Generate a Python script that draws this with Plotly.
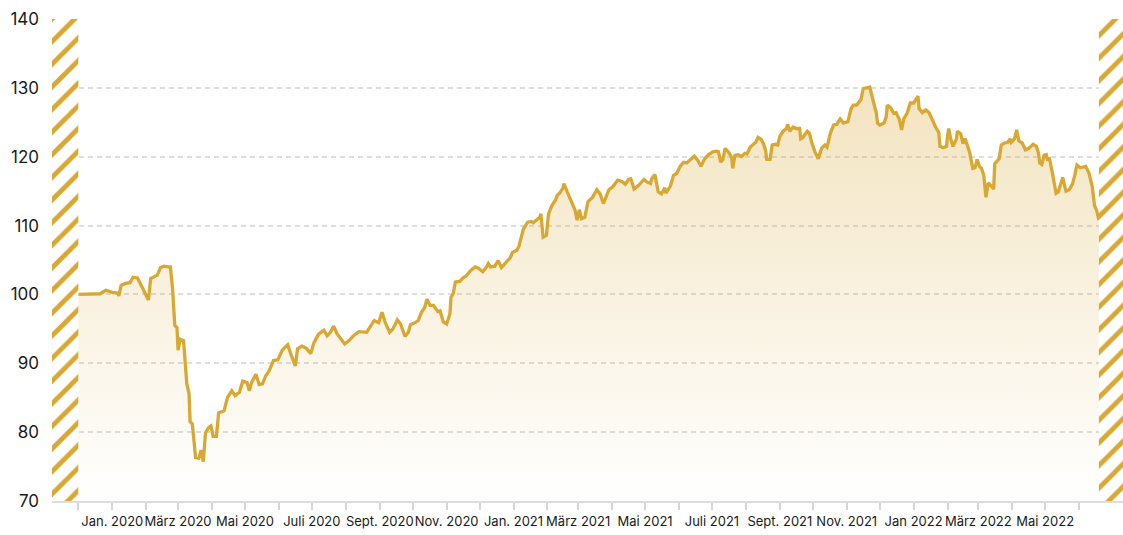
import plotly.graph_objects as go

dates = [
"2019-12-01","2019-12-17","2019-12-21","2019-12-26","2020-01-01","2020-01-06","2020-01-07","2020-01-09",
"2020-01-13","2020-01-17","2020-01-20","2020-01-24","2020-01-27","2020-01-28","2020-01-31","2020-02-03",
"2020-02-05","2020-02-08","2020-02-11","2020-02-14","2020-02-17","2020-02-21","2020-02-23","2020-02-25",
"2020-02-27","2020-02-29","2020-03-01","2020-03-03","2020-03-06","2020-03-09","2020-03-11","2020-03-12",
"2020-03-14","2020-03-17","2020-03-20","2020-03-22","2020-03-24","2020-03-26","2020-03-29","2020-03-31",
"2020-04-02","2020-04-05","2020-04-07","2020-04-12","2020-04-15","2020-04-19","2020-04-22","2020-04-26",
"2020-04-29","2020-05-03","2020-05-05","2020-05-07","2020-05-11","2020-05-14","2020-05-17","2020-05-20",
"2020-05-23","2020-05-27","2020-05-31","2020-06-04","2020-06-09","2020-06-12","2020-06-16","2020-06-18",
"2020-06-22","2020-06-26","2020-06-30","2020-07-03","2020-07-07","2020-07-12","2020-07-15","2020-07-18",
"2020-07-21","2020-07-24","2020-07-28","2020-07-31","2020-08-04","2020-08-08","2020-08-13","2020-08-17",
"2020-08-20","2020-08-24","2020-08-27","2020-08-31","2020-09-03","2020-09-06","2020-09-10","2020-09-13",
"2020-09-17","2020-09-20","2020-09-22","2020-09-24","2020-09-27","2020-09-29","2020-10-03","2020-10-06",
"2020-10-09","2020-10-12","2020-10-14","2020-10-17","2020-10-20","2020-10-24","2020-10-26","2020-10-29",
"2020-11-01","2020-11-04","2020-11-05","2020-11-07","2020-11-09","2020-11-13","2020-11-16","2020-11-19",
"2020-11-23","2020-11-27","2020-11-30","2020-12-04","2020-12-07","2020-12-09","2020-12-11","2020-12-15",
"2020-12-18","2020-12-21","2020-12-26","2020-12-29","2020-12-31","2021-01-04","2021-01-06","2021-01-08",
"2021-01-10","2021-01-14","2021-01-17","2021-01-19","2021-01-22","2021-01-25","2021-01-26","2021-01-28",
"2021-01-31","2021-02-02","2021-02-05","2021-02-08","2021-02-10","2021-02-12","2021-02-15","2021-02-16",
"2021-02-19","2021-02-22","2021-02-25","2021-02-26","2021-02-28","2021-03-02","2021-03-04","2021-03-07",
"2021-03-10","2021-03-14","2021-03-18","2021-03-21","2021-03-24","2021-03-27","2021-03-29","2021-04-02",
"2021-04-06","2021-04-10","2021-04-13","2021-04-16","2021-04-18","2021-04-21","2021-04-25","2021-04-30",
"2021-05-03","2021-05-06","2021-05-07","2021-05-10","2021-05-11","2021-05-13","2021-05-16","2021-05-19",
"2021-05-20","2021-05-24","2021-05-27","2021-05-30","2021-06-02","2021-06-05","2021-06-08","2021-06-11",
"2021-06-15","2021-06-18","2021-06-21","2021-06-24","2021-06-28","2021-07-02","2021-07-05","2021-07-07",
"2021-07-09","2021-07-11","2021-07-13","2021-07-16","2021-07-19","2021-07-20","2021-07-22","2021-07-25",
"2021-07-28","2021-07-31","2021-08-02","2021-08-05","2021-08-08","2021-08-10","2021-08-12","2021-08-15",
"2021-08-17","2021-08-19","2021-08-20","2021-08-23","2021-08-25","2021-08-28","2021-08-30","2021-09-01",
"2021-09-04","2021-09-07","2021-09-08","2021-09-10","2021-09-13","2021-09-16","2021-09-19","2021-09-20",
"2021-09-22","2021-09-26","2021-09-28","2021-09-30","2021-10-03","2021-10-06","2021-10-09","2021-10-12",
"2021-10-14","2021-10-17","2021-10-20","2021-10-23","2021-10-26","2021-10-29","2021-11-02","2021-11-05",
"2021-11-07","2021-11-10","2021-11-14","2021-11-16","2021-11-19","2021-11-22","2021-11-25","2021-11-28",
"2021-11-29","2021-12-01","2021-12-05","2021-12-07","2021-12-08","2021-12-11","2021-12-14","2021-12-16",
"2021-12-19","2021-12-21","2021-12-23","2021-12-26","2021-12-29","2022-01-01","2022-01-03","2022-01-05",
"2022-01-06","2022-01-09","2022-01-12","2022-01-15","2022-01-18","2022-01-21","2022-01-24","2022-01-25",
"2022-01-28","2022-01-31","2022-02-01","2022-02-02","2022-02-04","2022-02-06","2022-02-09","2022-02-10",
"2022-02-13","2022-02-15","2022-02-17","2022-02-19","2022-02-21","2022-02-24","2022-02-26","2022-02-28",
"2022-03-02","2022-03-04","2022-03-06","2022-03-08","2022-03-10","2022-03-13","2022-03-15","2022-03-16",
"2022-03-18","2022-03-20","2022-03-22","2022-03-25","2022-03-28","2022-03-30","2022-03-31","2022-04-03",
"2022-04-05","2022-04-07","2022-04-10","2022-04-13","2022-04-16","2022-04-20","2022-04-23","2022-04-25",
"2022-04-26","2022-04-28","2022-04-30","2022-05-02","2022-05-03","2022-05-05","2022-05-07","2022-05-09",
"2022-05-11","2022-05-13","2022-05-15","2022-05-17","2022-05-18","2022-05-20","2022-05-23","2022-05-26",
"2022-05-28","2022-05-30","2022-06-02","2022-06-04","2022-06-07","2022-06-10","2022-06-13","2022-06-15",
"2022-06-17","2022-06-19",
]

values = [
100.0,100.0,100.1,100.6,100.3,100.2,99.8,101.3,
101.6,101.7,102.5,102.4,101.5,101.1,100.3,99.2,
102.3,102.5,102.8,103.9,104.1,104.0,104.0,100.8,
95.5,95.2,91.9,93.5,93.3,87.0,85.6,81.5,
81.2,76.3,76.2,77.4,75.7,79.9,80.7,80.9,
79.4,79.4,82.8,83.1,85.0,86.0,85.3,85.8,
87.4,87.2,86.0,87.2,88.4,86.9,87.0,88.2,
88.9,90.4,90.5,91.9,92.7,91.3,89.6,92.1,
92.5,92.2,91.4,93.0,94.2,94.8,94.0,94.5,
95.4,94.3,93.5,92.8,93.3,94.0,94.6,94.5,
94.5,95.5,96.2,95.9,97.4,95.9,94.5,95.0,
96.3,95.7,94.7,93.9,94.5,95.6,95.9,96.2,
97.4,98.1,99.3,98.4,98.4,97.5,97.6,96.0,
95.7,97.2,99.6,100.1,101.8,101.9,102.4,102.7,
103.5,104.0,103.8,103.3,103.9,104.5,104.0,104.1,
104.9,103.9,104.8,105.3,106.1,106.4,107.0,108.3,
109.5,110.5,110.6,110.4,110.8,111.2,111.7,108.3,
108.6,111.7,112.9,113.6,114.4,114.7,115.4,116.1,
114.9,113.9,112.7,112.3,110.8,112.3,111.0,111.2,
113.5,114.1,115.2,114.6,113.2,114.4,115.2,115.7,
116.6,116.4,116.0,116.7,116.8,115.3,115.8,116.7,
116.3,116.1,116.8,117.4,116.3,114.9,114.6,115.5,
114.7,115.7,117.3,117.6,118.6,119.2,119.1,119.5,
120.1,119.5,118.6,119.6,120.3,120.7,120.8,120.7,
119.2,119.6,121.2,120.7,119.9,118.3,120.2,120.3,
120.0,120.5,120.4,121.4,121.8,122.1,122.8,122.5,
121.9,120.9,119.6,119.6,121.7,121.8,121.7,123.0,
123.7,124.1,124.7,123.7,124.3,124.1,124.1,122.6,
122.8,123.7,123.4,122.1,120.7,119.7,121.2,121.7,
121.4,123.4,124.6,124.7,125.5,124.9,125.1,127.0,
127.5,127.5,128.3,129.9,130.0,130.1,128.2,126.3,
124.9,124.6,124.9,125.8,127.5,127.1,126.3,126.4,
125.4,123.9,125.5,126.3,127.8,127.8,128.3,128.8,
127.0,126.4,126.8,126.4,125.4,124.3,123.5,121.5,
121.3,121.5,123.1,124.1,122.5,121.5,122.6,123.7,
123.3,121.9,122.6,121.8,120.7,118.3,118.4,119.6,
118.6,118.3,117.3,114.1,116.2,115.7,115.3,119.0,
119.4,119.7,121.7,122.0,122.1,122.6,122.1,122.6,
123.9,122.3,122.0,121.0,121.2,121.8,121.5,120.5,
119.1,118.9,120.2,120.3,119.6,119.7,118.1,116.6,
114.7,114.9,116.1,117.0,116.3,115.0,115.2,116.1,
117.3,118.8,118.4,118.5,118.6,117.6,115.6,112.9,
112.2,110.8,
]

tick_dates = [
"2019-12-01","2020-01-01","2020-02-01","2020-03-01","2020-04-01","2020-05-01","2020-06-01","2020-07-01",
"2020-08-01","2020-09-01","2020-10-01","2020-11-01","2020-12-01","2021-01-01","2021-02-01","2021-03-01",
"2021-04-01","2021-05-01","2021-06-01","2021-07-01","2021-08-01","2021-09-01","2021-10-01","2021-11-01",
"2021-12-01","2022-01-01","2022-02-01","2022-03-01","2022-04-01","2022-05-01","2022-06-01",
]
tick_labels = [
"", "Jan. 2020", "", "März 2020", "", "Mai 2020", "", "Juli 2020",
"", "Sept. 2020", "", "Nov. 2020", "", "Jan. 2021", "", "März 2021",
"", "Mai 2021", "", "Juli 2021", "", "Sept. 2021", "", "Nov. 2021",
"", "Jan 2022", "", "März 2022", "", "Mai 2022", "",
]

y_ticks = [70, 80, 90, 100, 110, 120, 130, 140]
x_range = ["2019-11-07", "2022-07-11"]
y_range = [70, 140]

GOLD = "#D9A833"
FONT = "Inter"

fig = go.Figure()

fig.add_trace(go.Scatter(
    x=dates, y=values, mode="lines",
    line=dict(color=GOLD, width=3.3),
    fill="tozeroy",
    fillgradient=dict(
        type="vertical",
        colorscale=[[0, "rgba(217,168,51,0.0)"], [1, "rgba(217,168,51,0.31)"]],
        start=70, stop=130,
    ),
    hoverinfo="x+y", showlegend=False,
))

hatch = dict(shape="/", fgcolor=GOLD, bgcolor="white", size=16, solidity=0.3, fillmode="replace")
for xs in ([x_range[0], dates[0]], [dates[-1], x_range[1]]):
    fig.add_trace(go.Scatter(
        x=[xs[0], xs[1], xs[1], xs[0], xs[0]],
        y=[y_range[0], y_range[0], y_range[1], y_range[1], y_range[0]],
        mode="lines", line=dict(width=0, color="rgba(0,0,0,0)"),
        fill="toself", fillcolor="white", fillpattern=hatch,
        hoverinfo="skip", showlegend=False,
    ))

fig.update_layout(
    width=1123, height=535,
    margin=dict(l=52, r=0, t=19, b=34),
    paper_bgcolor="white", plot_bgcolor="white",
    font=dict(family=FONT, color="#1a1a1a"),
    xaxis=dict(
        type="date", range=x_range,
        tickmode="array", tickvals=tick_dates, ticktext=tick_labels,
        tickangle=0, ticks="outside", ticklen=7, tickwidth=1.5, tickcolor="#d6d6d6",
        showgrid=False, zeroline=False,
        showline=True, linecolor="#dddddd", linewidth=2,
        tickfont=dict(size=13, family=FONT, color="#1a1a1a"),
    ),
    yaxis=dict(
        range=y_range, tickmode="array", tickvals=y_ticks,
        showgrid=True, gridcolor="#dedede", gridwidth=1.5, griddash="5px,4px",
        zeroline=False, showline=False, ticks="",
        ticklabelstandoff=12,
        tickfont=dict(size=17, family=FONT, color="#1a1a1a"),
    ),
)

fig.write_html(
    "out.html",
    config={"displayModeBar": False},
    post_script="document.body.style.margin='0';document.body.style.overflow='hidden';",
)
